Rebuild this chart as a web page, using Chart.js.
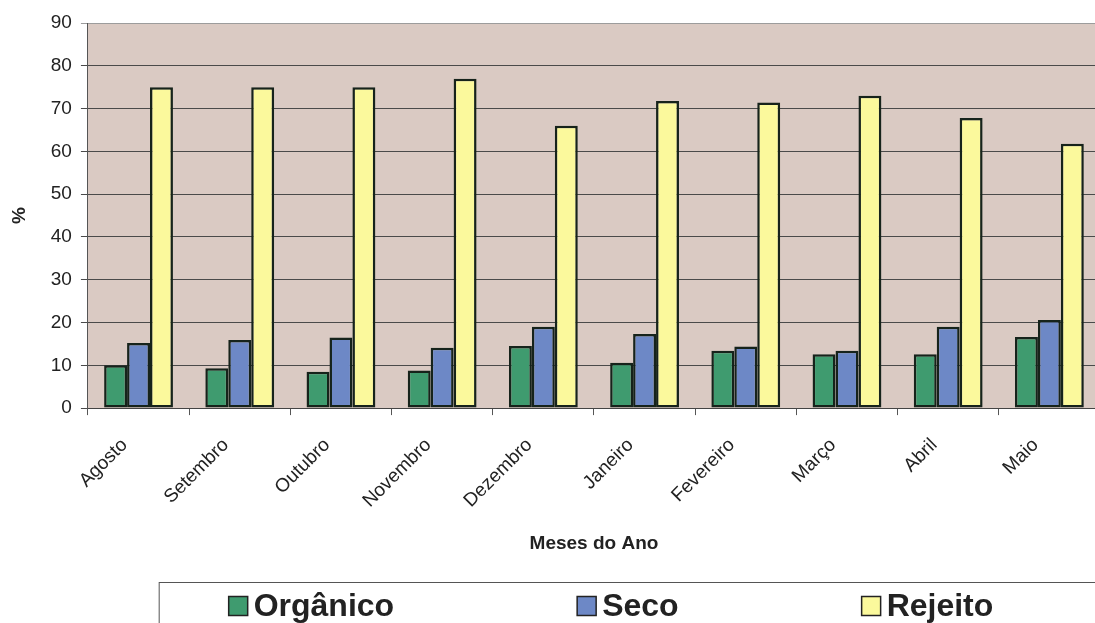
<!DOCTYPE html>
<html>
<head>
<meta charset="utf-8">
<script src="https://cdn.jsdelivr.net/npm/chart.js@4"></script>
<style>
    html, body { margin: 0; padding: 0; background: #ffffff; overflow: hidden; }
    #wrap { width: 1095px; height: 623px; overflow: hidden; }
</style>
</head>
<body>
<div id="wrap">
    <canvas id="myChart" width="1222" height="650"></canvas>
</div>
<script>
// months (Agosto .. Maio)
const months = ['Agosto', 'Setembro', 'Outubro', 'Novembro', 'Dezembro', 'Janeiro', 'Fevereiro', 'Março', 'Abril', 'Maio'];

// percentages
const organico = [10, 9.3, 8.5, 8.8, 14.5, 10.6, 13.4, 12.6, 12.6, 16.6];
const seco = [15.2, 15.9, 16.5, 14.1, 19.0, 17.3, 14.4, 13.4, 19.0, 20.6];
const rejeito = [75, 75, 75, 77, 66, 71.8, 71.4, 73, 67.8, 61.8];

const yTicks = [0, 10, 20, 30, 40, 50, 60, 70, 80, 90];

const plotBackground = {
    id: 'plotBackground',
    beforeDraw(chart) {
        const { ctx, chartArea } = chart;
        ctx.save();
        ctx.fillStyle = '#dacac3';
        ctx.fillRect(chartArea.left, chartArea.top, chartArea.right - chartArea.left, chartArea.bottom - chartArea.top);
        ctx.restore();
    }
};

// legend in a framed box, items spaced wide like the original
const boxedLegend = {
    id: 'boxedLegend',
    afterDraw(chart) {
        const ctx = chart.ctx;
        const datasets = chart.data.datasets;
        const font = 'bold 32px "Liberation Sans", Arial, sans-serif';
        const box = 19, gap = 6, spacing = 183;
        ctx.save();
        ctx.font = font;
        let widths = datasets.map(d => box + gap + ctx.measureText(d.label).width);
        let total = widths.reduce((a, b) => a + b, 0) + spacing * (datasets.length - 1);
        let x = chart.width / 2 - total / 2;
        const frameTop = chart.height - 68;
        ctx.strokeStyle = '#555555';
        ctx.lineWidth = 1;
        ctx.strokeRect(x - 70 + 0.5, frameTop + 0.5, chart.width, 200);
        const cy = frameTop + 24;
        datasets.forEach((d, i) => {
            ctx.fillStyle = d.backgroundColor;
            ctx.fillRect(x, cy - box / 2, box, box);
            ctx.strokeStyle = '#222222';
            ctx.lineWidth = 1.5;
            ctx.strokeRect(x, cy - box / 2, box, box);
            ctx.fillStyle = '#222222';
            ctx.textBaseline = 'middle';
            ctx.fillText(d.label, x + box + gap, cy + 1);
            x += widths[i] + spacing;
        });
        ctx.restore();
    }
};

const ctx = document.getElementById('myChart').getContext('2d');
const myChart = new Chart(ctx, {
    type: 'bar',
    data: {
        labels: months,
        datasets: [{
            label: 'Orgânico',
            data: organico,
            backgroundColor: '#3f9b6f'
        }, {
            label: 'Seco',
            data: seco,
            backgroundColor: '#6d88c6'
        }, {
            label: 'Rejeito',
            data: rejeito,
            backgroundColor: '#fbf99c'
        }]
    },
    options: {
        responsive: false,
        animation: false,
        devicePixelRatio: 1,
        layout: {
            padding: { top: 23, right: 122, bottom: 95, left: 8 }
        },
        datasets: {
            bar: {
                categoryPercentage: 0.68,
                barPercentage: 1.0,
                borderColor: '#16231b',
                borderWidth: 2.5,
                borderSkipped: false
            }
        },
        plugins: {
            legend: { display: false },
            tooltip: { enabled: false }
        },
        scales: {
            x: {
                offset: true,
                grid: {
                    offset: true,
                    drawOnChartArea: false,
                    drawTicks: true,
                    tickLength: 7,
                    color: '#555555'
                },
                border: { display: true, color: '#444444', width: 1 },
                ticks: {
                    minRotation: 45,
                    maxRotation: 45,
                    padding: 19,
                    labelOffset: -14,
                    color: '#222222',
                    font: { family: '"Liberation Sans", Arial, sans-serif', size: 19 }
                },
                title: {
                    display: true,
                    text: 'Meses do Ano',
                    color: '#222222',
                    padding: { top: 1, bottom: 0 },
                    font: { family: '"Liberation Sans", Arial, sans-serif', size: 19, weight: 'bold' }
                }
            },
            y: {
                min: 0,
                max: 90,
                afterBuildTicks(axis) {
                    axis.ticks = yTicks.map(v => ({ value: v }));
                },
                grid: {
                    color: (c) => (c.tick && c.tick.value === 90 ? '#9c9c9c' : '#4a4a4a'),
                    tickLength: 7,
                    lineWidth: 1
                },
                border: { display: true, color: '#555555', width: 1 },
                ticks: {
                    padding: 9,
                    color: '#222222',
                    font: { family: '"Liberation Sans", Arial, sans-serif', size: 19 }
                },
                title: {
                    display: true,
                    text: '%',
                    color: '#222222',
                    padding: { top: 0, bottom: 11 },
                    font: { family: '"Liberation Sans", Arial, sans-serif', size: 19, weight: 'bold' }
                }
            }
        }
    },
    plugins: [plotBackground, boxedLegend]
});
</script>
</body>
</html>
